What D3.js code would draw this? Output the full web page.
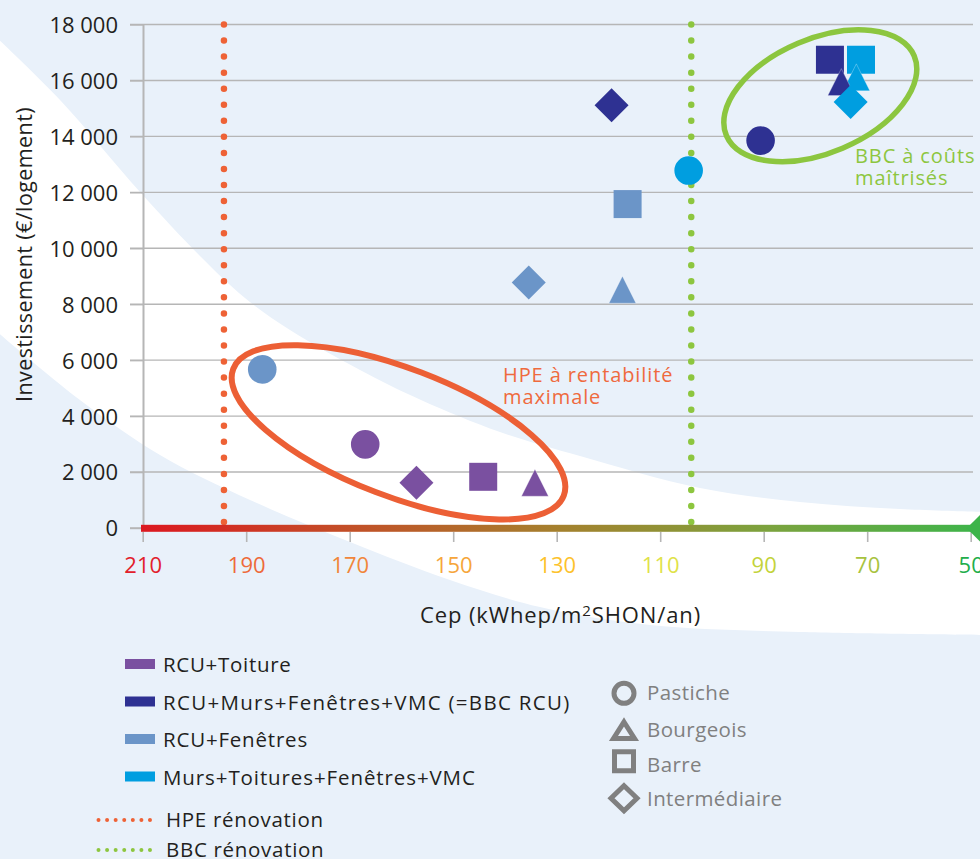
<!DOCTYPE html>
<html><head><meta charset="utf-8">
<script src="https://cdn.jsdelivr.net/npm/d3@7"></script>
<style>
body{margin:0;background:#fff;}
svg{display:block;font-family:"Open Sans","Noto Sans",sans-serif;}
</style>
</head><body>
<svg id="chart" width="980" height="859"></svg>
<script>
// ---------- data ----------
const categories = ["RCU+Toiture", "RCU+Murs+Fenêtres+VMC (=BBC RCU)", "RCU+Fenêtres", "Murs+Toitures+Fenêtres+VMC"];
const seriesColors = ["#7a50a0", "#2e3192", "#6b95c8", "#009ee0"];
const typologies = ["Pastiche", "Bourgeois", "Barre", "Intermédiaire"];
const typologyShapes = ["circle", "triangle", "square", "diamond"];
// values ordered as typologies: Pastiche, Bourgeois, Barre, Intermédiaire
const cepToiture = [167.0, 134.2, 144.2, 157.1];
const invToiture = [2990, 1620, 1830, 1620];
const cepMursFenVMC = [90.6, 75.0, 77.2, 119.4];
const invMursFenVMC = [13850, 15940, 16740, 15110];
const cepFenetres = [186.9, 117.3, 116.3, 135.4];
const invFenetres = [5670, 8520, 11580, 8780];
const cepMursToitFenVMC = [104.5, 72.1, 71.2, 73.2];
const invMursToitFenVMC = [12780, 16110, 16740, 15230];
const xTicks = [210, 190, 170, 150, 130, 110, 90, 70, 50];
const xTickColors = ["#e2202b", "#ee6a3a", "#f1863a", "#f6a63b", "#fdc22c", "#dfe24a", "#c3d33a", "#a8c33e", "#22ae4b"];
const yTicks = [0, 2000, 4000, 6000, 8000, 10000, 12000, 14000, 16000, 18000];
const thresholds = ["HPE rénovation", "BBC rénovation"];
const thresholdCep = [194.3, 104.0];
const thresholdColors = ["#ee6236", "#8dc63f"];

const seriesCep = [cepToiture, cepMursFenVMC, cepFenetres, cepMursToitFenVMC];
const seriesInv = [invToiture, invMursFenVMC, invFenetres, invMursToitFenVMC];

// ---------- setup ----------
const FONT = "'Open Sans', 'Noto Sans', sans-serif";
const svg = d3.select("#chart");
const W = 980, H = 859;
const x = d3.scaleLinear().domain([210, 50]).range([142.7, 970.7]);
const y = d3.scaleLinear().domain([0, 18000]).range([528, 24.5]);
const fr = d3.formatLocale({decimal: ",", thousands: "\u00a0", grouping: [3], currency: ["", "€"]});
const fmt = fr.format(",");

// background
svg.append("rect").attr("width", W).attr("height", H).attr("fill", "#e9f1fa");
const upper = [[-5,36],[60,100],[140,192],[200,256],[245,298],[290,330],[360,370],[421,400],[500,432],[580,456],[700,488],[800,502],[900,509],[990,512]];
const lower = [[-5,330],[80,400],[160,455],[250,500],[350,542],[450,580],[540,607],[650,625],[800,632],[990,635]];
const bl = d3.line().curve(d3.curveCatmullRom);
const p1 = bl(upper);
const p2 = bl(lower.slice().reverse()).replace(/^M/, "L");
svg.append("path").attr("d", p1 + p2 + "Z").attr("fill", "#ffffff");

// gridlines
const grid = svg.append("g");
grid.selectAll("line").data(yTicks).join("line")
  .attr("x1", 130).attr("x2", 973)
  .attr("y1", d => y(d)).attr("y2", d => y(d))
  .attr("stroke", "#b6b6b6").attr("stroke-width", 1.4);

// y axis
const yAxis = svg.append("g").attr("transform", "translate(143,0)")
  .call(d3.axisLeft(y).tickValues(yTicks).tickSize(13).tickSizeOuter(0).tickPadding(12).tickFormat(d => fmt(d)));
yAxis.select(".domain").attr("stroke", "#b6b6b6").attr("stroke-width", 2);
yAxis.selectAll(".tick line").attr("stroke", "#b6b6b6").attr("stroke-width", 1.4);
yAxis.selectAll(".tick text").attr("fill", "#231f20").attr("font-size", 22)
  .attr("font-family", FONT).attr("dy", "0.36em");

// threshold dotted lines
svg.append("g").selectAll("line").data(thresholdCep).join("line")
  .attr("x1", d => x(d)).attr("x2", d => x(d))
  .attr("y1", y(18000)).attr("y2", y(0) - 5)
  .attr("stroke", (d, i) => thresholdColors[i]).attr("stroke-width", 6.5)
  .attr("stroke-linecap", "round").attr("stroke-dasharray", "0 16.05");

// ellipses
svg.append("ellipse").attr("cx", 0).attr("cy", 0).attr("rx", 177).attr("ry", 64)
  .attr("transform", "translate(398.5,432.3) rotate(21)")
  .attr("fill", "none").attr("stroke", "#ec5f35").attr("stroke-width", 6);
svg.append("ellipse").attr("cx", 0).attr("cy", 0).attr("rx", 102).attr("ry", 57)
  .attr("transform", "translate(820.3,95.7) rotate(-23)")
  .attr("fill", "none").attr("stroke", "#8cc63f").attr("stroke-width", 5.5);

// annotations
const ann = svg.append("g").attr("font-size", 20).attr("letter-spacing", 0.9);
ann.append("text").attr("x", 503).attr("y", 382).attr("fill", "#ef6a3e").text("HPE à rentabilité");
ann.append("text").attr("x", 503).attr("y", 404).attr("fill", "#ef6a3e").text("maximale");
ann.append("text").attr("x", 855).attr("y", 162.5).attr("fill", "#8dc63f").text("BBC à coûts");
ann.append("text").attr("x", 855).attr("y", 184.5).attr("fill", "#8dc63f").text("maîtrisés");

// marker shapes
function shapePath(shape, cx, cy, s) {
  const p = d3.path();
  if (shape === "circle") { p.moveTo(cx + 14.3*s, cy); p.arc(cx, cy, 14.3*s, 0, 2*Math.PI); }
  else if (shape === "square") { const h = 14*s; p.rect(cx - h, cy - h, 2*h, 2*h); }
  else if (shape === "triangle") { const h = 13.5*s; p.moveTo(cx, cy - h); p.lineTo(cx + h, cy + h); p.lineTo(cx - h, cy + h); p.closePath(); }
  else { const h = 17*s; p.moveTo(cx, cy - h); p.lineTo(cx + h, cy); p.lineTo(cx, cy + h); p.lineTo(cx - h, cy); p.closePath(); }
  return p.toString();
}

const points = [];
seriesCep.forEach((arr, ci) => arr.forEach((v, ti) => points.push({ci, ti, cep: v, inv: seriesInv[ci][ti], shape: typologyShapes[ti]})));
const rank = {square: 0, triangle: 1, diamond: 2, circle: 3};
points.sort((a, b) => (rank[a.shape] - rank[b.shape]) || (b.ci - a.ci));
svg.append("g").selectAll("path").data(points).join("path")
  .attr("d", d => shapePath(d.shape, x(d.cep), y(d.inv), 1))
  .attr("fill", d => seriesColors[d.ci])
  .attr("stroke", d => d.shape === "triangle" ? "rgba(255,255,255,0.35)" : "none")
  .attr("stroke-width", 0.8);

// gradient x axis bar
const defs = svg.append("defs");
const lg = defs.append("linearGradient").attr("id", "axisGrad").attr("x1", "0%").attr("x2", "100%");
lg.append("stop").attr("offset", "0%").attr("stop-color", "#dc1820");
lg.append("stop").attr("offset", "25%").attr("stop-color", "#c25028");
lg.append("stop").attr("offset", "50%").attr("stop-color", "#a4812e");
lg.append("stop").attr("offset", "75%").attr("stop-color", "#7ba33e");
lg.append("stop").attr("offset", "100%").attr("stop-color", "#3db44a");

const xAxis = svg.append("g").attr("transform", "translate(0,528)")
  .call(d3.axisBottom(x).tickValues(xTicks).tickSize(14).tickSizeOuter(0).tickFormat(d => d));
xAxis.select(".domain").remove();
xAxis.selectAll(".tick line").attr("y1", 4).attr("stroke", "#b6b6b6").attr("stroke-width", 1.6);
xAxis.selectAll(".tick text").attr("y", 44.5).attr("dy", null).attr("font-size", 22)
  .attr("font-family", FONT)
  .attr("fill", (d, i) => xTickColors[i]);
svg.append("rect").attr("x", 141).attr("y", 524.8).attr("width", 840).attr("height", 7)
  .attr("fill", "url(#axisGrad)");
svg.append("path").attr("d", shapePath("diamond", 982, 528.3, 0.9)).attr("fill", "#3db44a");

// axis titles
const xt = svg.append("text").attr("x", 560.5).attr("y", 623).attr("text-anchor", "middle")
  .attr("font-size", 22).attr("letter-spacing", 0.9).attr("fill", "#231f20");
xt.append("tspan").text("Cep (kWhep/m");
xt.append("tspan").attr("font-size", 15).attr("dy", -7).text("2");
xt.append("tspan").attr("dy", 7).text("SHON/an)");
svg.append("text").attr("transform", "translate(31.5,254.5) rotate(-90)").attr("text-anchor", "middle")
  .attr("font-size", 21.5).attr("letter-spacing", 0.4).attr("fill", "#231f20").text("Investissement (€/logement)");

// legend: series
const legY = [664, 701.5, 739, 776.5];
const legSpacing = [0.7, 1.3, 0.8, 0.9];
const lgS = svg.append("g");
lgS.selectAll("rect").data(categories).join("rect")
  .attr("x", 125).attr("y", (d, i) => legY[i] - 5).attr("width", 30).attr("height", 10)
  .attr("fill", (d, i) => seriesColors[i]);
lgS.selectAll("text").data(categories).join("text")
  .attr("x", 163).attr("y", (d, i) => legY[i] + 8).attr("font-size", 20.5).attr("fill", "#231f20")
  .attr("letter-spacing", (d, i) => legSpacing[i])
  .text(d => d);

// legend: thresholds
const thY = [820, 850];
thresholds.forEach((t, i) => {
  svg.append("line").attr("x1", 98.5).attr("x2", 150).attr("y1", thY[i]).attr("y2", thY[i])
    .attr("stroke", thresholdColors[i]).attr("stroke-width", 4).attr("stroke-linecap", "round")
    .attr("stroke-dasharray", "0 8.58");
  svg.append("text").attr("x", 166).attr("y", thY[i] + 7).attr("font-size", 20.5).attr("letter-spacing", 0.7)
    .attr("fill", "#231f20").text(t);
});

// legend: typologies
const tyY = [693.3, 730, 761.3, 798.3];
const tyText = [700, 736.7, 771.7, 806];
const lgT = svg.append("g");
function outlineShape(shape, cx, cy) {
  const p = d3.path();
  if (shape === "circle") { p.moveTo(cx + 10, cy); p.arc(cx, cy, 10, 0, 2*Math.PI); }
  else if (shape === "square") { p.rect(cx - 9.5, cy - 9.5, 19, 19); }
  else if (shape === "triangle") { p.moveTo(cx, cy - 8); p.lineTo(cx + 10.5, cy + 8.5); p.lineTo(cx - 10.5, cy + 8.5); p.closePath(); }
  else { p.moveTo(cx, cy - 12.5); p.lineTo(cx + 13, cy); p.lineTo(cx, cy + 12.5); p.lineTo(cx - 13, cy); p.closePath(); }
  return p.toString();
}
lgT.selectAll("path").data(typologies).join("path")
  .attr("d", (d, i) => outlineShape(typologyShapes[i], 624, tyY[i]))
  .attr("fill", "none").attr("stroke", "#808080").attr("stroke-width", 5).attr("stroke-linejoin", "miter");
lgT.selectAll("text").data(typologies).join("text")
  .attr("x", 647).attr("y", (d, i) => tyText[i]).attr("font-size", 20.5).attr("letter-spacing", 0.4)
  .attr("fill", "#808080")
  .text(d => d);
</script>
</body></html>
